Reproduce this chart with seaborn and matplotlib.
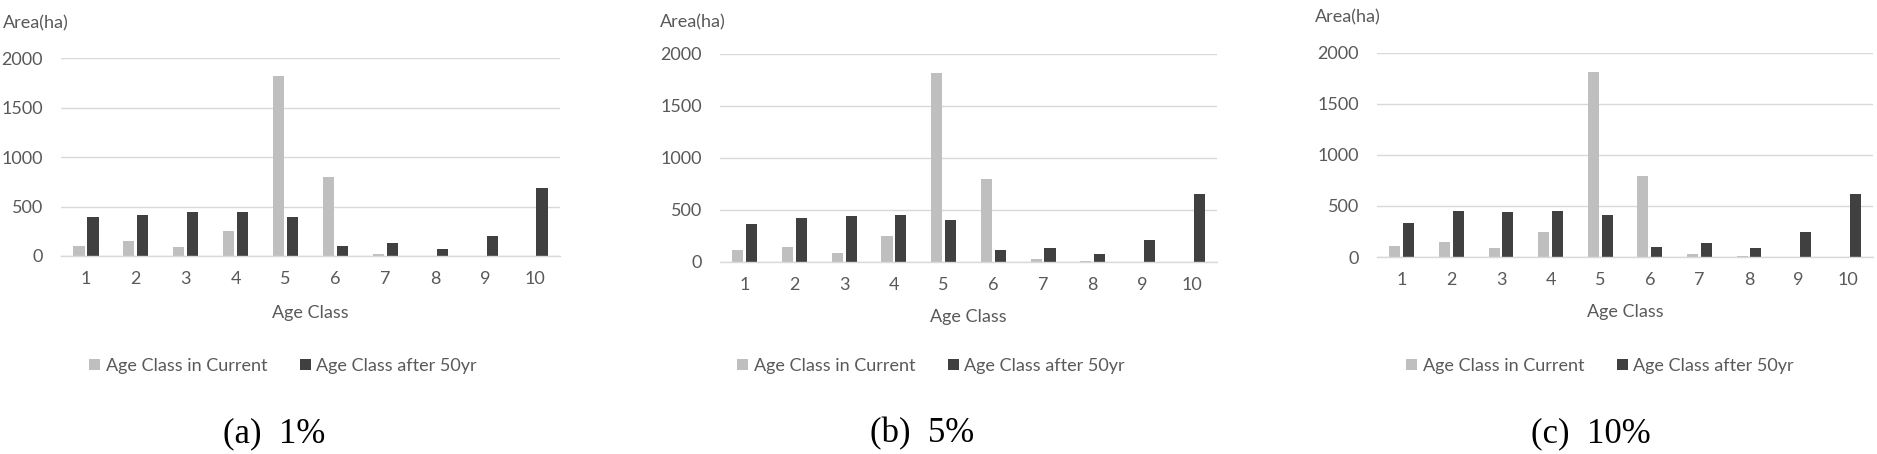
import matplotlib
matplotlib.use("Agg")
import matplotlib.pyplot as plt
from matplotlib.patches import Patch
import seaborn as sns
import pandas as pd

# values (ha)
age_classes = ["1", "2", "3", "4", "5", "6", "7", "8", "9", "10"]
series_names = ["Age Class in Current", "Age Class after 50yr"]

current_1pct = [100, 150, 88, 252, 1820, 795, 20, 3, 0, 0]
after_1pct = [393, 413, 440, 446, 393, 101, 131, 70, 201, 685]

current_5pct = [112, 147, 90, 253, 1818, 797, 32, 13, 0, 0]
after_5pct = [368, 426, 442, 454, 406, 112, 138, 80, 214, 656]

current_10pct = [105, 147, 88, 245, 1817, 795, 29, 10, 0, 0]
after_10pct = [334, 448, 442, 452, 412, 98, 137, 88, 242, 615]

captions = ["(a)  1%", "(b)  5%", "(c)  10%"]
y_ticks = [0, 500, 1000, 1500, 2000]

panels = [(current_1pct, after_1pct), (current_5pct, after_5pct), (current_10pct, after_10pct)]

sns.set_style("white")
plt.rcParams["font.family"] = ["Lato", "DejaVu Sans"]

W, H = 1877, 454
fig = plt.figure(figsize=(W / 100, H / 100), dpi=100)

def px_rect(x0, y_top, x1, y_bot):
    return [x0 / W, 1 - y_bot / H, (x1 - x0) / W, (y_bot - y_top) / H]

# plot areas in pixels: left, top(2000), right, bottom(0)
boxes = [(61, 58, 560, 256), (720, 54, 1217, 262), (1377, 53, 1873, 257)]
area_pos = [(3, 23), (660, 22), (1315, 17)]
xlab_y = [313, 317, 312]
legend_x = [283, 931, 1600]
caption_x = [274, 922, 1591]

grey_txt = "#595959"
grid_c = "#D9D9D9"
colors = ["#BFBFBF", "#404040"]
fs = 13

for i, (cur, aft) in enumerate(panels):
    df = pd.DataFrame({
        "age": age_classes * 2,
        "area": cur + aft,
        "series": [series_names[0]] * 10 + [series_names[1]] * 10,
    })
    ax = fig.add_axes(px_rect(*boxes[i]))
    sns.barplot(data=df, x="age", y="area", hue="series", order=age_classes,
                hue_order=series_names, palette=colors, width=0.56, gap=0.2,
                saturation=1, legend=False, ax=ax, linewidth=0)
    ax.set_ylim(0, 2000)
    ax.set_xlim(-0.5, 9.5)
    ax.set_yticks(y_ticks)
    ax.set_yticklabels([str(v) for v in y_ticks])
    ax.yaxis.grid(True, color=grid_c, linewidth=1)
    ax.set_axisbelow(True)
    for s in ["top", "left", "right"]:
        ax.spines[s].set_visible(False)
    ax.spines["bottom"].set_color(grid_c)
    ax.spines["bottom"].set_linewidth(1)
    ax.tick_params(axis="x", length=0, pad=11, labelsize=fs, labelcolor=grey_txt)
    ax.tick_params(axis="y", length=0, pad=13, labelsize=fs, labelcolor=grey_txt)
    ax.set_xlabel("")
    ax.set_ylabel("")

    x0, yt, x1, yb = boxes[i]
    fig.text(area_pos[i][0] / W, 1 - area_pos[i][1] / H, "Area(ha)",
             ha="left", va="center", fontsize=fs, color=grey_txt)
    fig.text((x0 + x1) / 2 / W, 1 - xlab_y[i] / H, "Age Class",
             ha="center", va="center", fontsize=fs, color=grey_txt)

    handles = [Patch(facecolor=c, edgecolor="none") for c in colors]
    leg = ax.legend(handles, series_names, loc="center", ncol=2, frameon=False,
                    bbox_to_anchor=(legend_x[i] / W, 1 - 366 / H),
                    bbox_transform=fig.transFigure, fontsize=fs,
                    handlelength=0.6, handleheight=0.6, handletextpad=0.3,
                    columnspacing=1.8)
    for t in leg.get_texts():
        t.set_color(grey_txt)

    fig.text(caption_x[i] / W, 1 - 434 / H, captions[i], ha="center", va="center",
             fontsize=25, family=["Liberation Serif", "DejaVu Serif"], color="black")

fig.savefig("out.png", dpi=100)
